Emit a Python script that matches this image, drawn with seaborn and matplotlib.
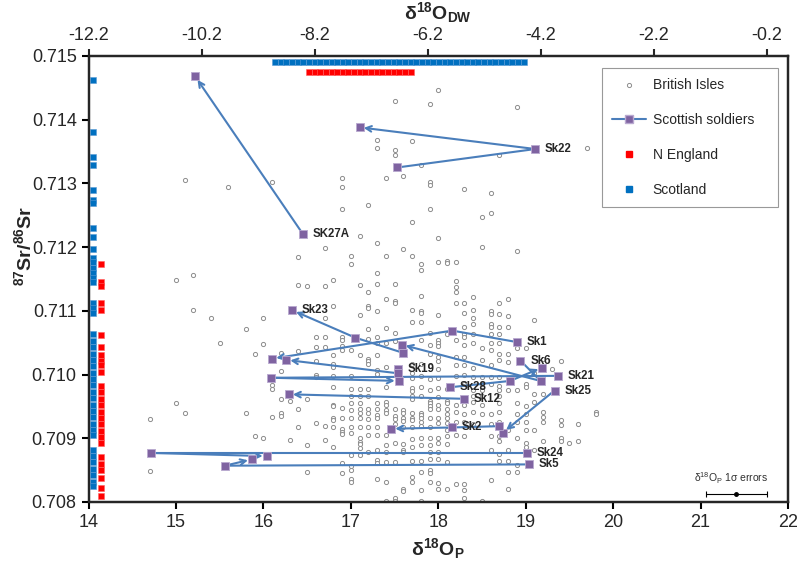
import matplotlib
matplotlib.use("Agg")
import matplotlib.pyplot as plt
import seaborn as sns
import pandas as pd
from matplotlib.lines import Line2D

# British Isles reference data: d18Op columns (0.1 permil steps) and the 87Sr/86Sr values in each
bi_cols = [14.7, 15.0, 15.1, 15.2, 15.4, 15.5, 15.6, 15.8, 15.9, 16.0, 16.1, 16.2, 16.3, 16.4, 16.5,
           16.6, 16.7, 16.8, 16.9, 17.0, 17.1, 17.2, 17.3, 17.4, 17.5, 17.6, 17.7, 17.8, 17.9, 18.0,
           18.1, 18.2, 18.3, 18.4, 18.5, 18.6, 18.7, 18.8, 18.9, 19.0, 19.1, 19.2, 19.3, 19.4, 19.5,
           19.6, 19.7, 19.8]
bi_sr = [
    [0.70930, 0.70848],
    [0.70955, 0.71148],
    [0.70939, 0.71306],
    [0.71101, 0.71156],
    [0.71089],
    [0.71049],
    [0.71294],
    [0.71071, 0.70940],
    [0.71032, 0.70904],
    [0.71089, 0.71048, 0.70900],
    [0.70984, 0.70978, 0.70934, 0.71302],
    [0.71034, 0.71006, 0.70962, 0.70939, 0.70935],
    [0.70958, 0.70897],
    [0.71037, 0.70946, 0.70918, 0.71184, 0.71140],
    [0.70962, 0.70889, 0.70847, 0.71139],
    [0.71059, 0.71044, 0.71022, 0.70999, 0.70996, 0.70924],
    [0.71089, 0.71059, 0.71044, 0.70920, 0.70898, 0.71199, 0.71139],
    [0.71107, 0.71030, 0.71017, 0.71012, 0.70998, 0.70981, 0.70952, 0.70950, 0.70932, 0.70928,
     0.70918, 0.70887, 0.71148],
    [0.71059, 0.71055, 0.71045, 0.71039, 0.70947, 0.70932, 0.70915, 0.70910, 0.70906, 0.70861,
     0.70846, 0.71309, 0.71295, 0.71260],
    [0.71039, 0.70997, 0.70978, 0.70967, 0.70955, 0.70945, 0.70932, 0.70918, 0.70908, 0.70874,
     0.70857, 0.70850, 0.70836, 0.70832, 0.71186, 0.71174],
    [0.71094, 0.71030, 0.70978, 0.70967, 0.70955, 0.70946, 0.70940, 0.70932, 0.70918, 0.70900,
     0.70894, 0.70891, 0.70885, 0.70874, 0.71217, 0.71141],
    [0.71129, 0.71107, 0.71104, 0.71071, 0.71056, 0.71025, 0.71021, 0.71017, 0.70978, 0.70967,
     0.70946, 0.70940, 0.70931, 0.70918, 0.70905, 0.70878, 0.71266],
    [0.71100, 0.71059, 0.71049, 0.71030, 0.71007, 0.71001, 0.70955, 0.70946, 0.70937, 0.70932,
     0.70918, 0.70905, 0.70881, 0.70866, 0.70861, 0.70836, 0.71368, 0.71355, 0.71207, 0.71159,
     0.71142],
    [0.71118, 0.71073, 0.71049, 0.71012, 0.70980, 0.70957, 0.70953, 0.70945, 0.70940, 0.70905,
     0.70889, 0.70878, 0.70862, 0.70831, 0.70802, 0.71308, 0.71186],
    [0.71115, 0.71112, 0.71066, 0.71052, 0.70946, 0.70935, 0.70931, 0.70922, 0.70893, 0.70862,
     0.70806, 0.70802, 0.71429, 0.71352, 0.71344, 0.71142],
    [0.70944, 0.70939, 0.70932, 0.70927, 0.70918, 0.70891, 0.70881, 0.70878, 0.70820, 0.70817,
     0.71312, 0.71197],
    [0.71101, 0.71083, 0.71017, 0.71002, 0.70995, 0.70979, 0.70974, 0.70966, 0.70962, 0.70939,
     0.70932, 0.70928, 0.70918, 0.70899, 0.70887, 0.70865, 0.70839, 0.70832, 0.71367, 0.71239,
     0.71186],
    [0.71124, 0.71100, 0.71096, 0.71083, 0.71055, 0.71016, 0.70997, 0.70980, 0.70967, 0.70939,
     0.70936, 0.70932, 0.70925, 0.70920, 0.70900, 0.70889, 0.70865, 0.70847, 0.70819, 0.70802,
     0.71329, 0.71174, 0.71164],
    [0.71066, 0.71046, 0.71033, 0.71013, 0.70993, 0.70976, 0.70959, 0.70955, 0.70951, 0.70946,
     0.70932, 0.70918, 0.70900, 0.70889, 0.70878, 0.70868, 0.70850, 0.70846, 0.70831, 0.71424,
     0.71302, 0.71297, 0.71260],
    [0.71094, 0.71055, 0.71050, 0.71045, 0.71028, 0.71021, 0.71008, 0.70994, 0.70979, 0.70965,
     0.70952, 0.70946, 0.70932, 0.70924, 0.70900, 0.70892, 0.70878, 0.70868, 0.70830, 0.70821,
     0.71446, 0.71214, 0.71177],
    [0.71064, 0.70978, 0.70959, 0.70955, 0.70946, 0.70938, 0.70932, 0.70924, 0.70913, 0.70904,
     0.70891, 0.70862, 0.70821, 0.71179, 0.71175],
    [0.71177, 0.71147, 0.71138, 0.71129, 0.71113, 0.71055, 0.71028, 0.71015, 0.70997, 0.70952,
     0.70942, 0.70926, 0.70905, 0.70829],
    [0.71292, 0.71112, 0.71097, 0.71075, 0.71064, 0.71059, 0.71046, 0.71028, 0.71015, 0.70999,
     0.70985, 0.70952, 0.70938, 0.70926, 0.70903, 0.70829, 0.70819, 0.70807],
    [0.71122, 0.71102, 0.71089, 0.71080, 0.71064, 0.71049, 0.71011, 0.70996, 0.70976, 0.70966,
     0.70957, 0.70942, 0.70923],
    [0.71248, 0.71200, 0.71041, 0.71023, 0.70996, 0.70985, 0.70976, 0.70966, 0.70952, 0.70938,
     0.70802],
    [0.71285, 0.71254, 0.71100, 0.71095, 0.71080, 0.71075, 0.71064, 0.71049, 0.71039, 0.71015,
     0.70996, 0.70985, 0.70938, 0.70923, 0.70904, 0.70882, 0.70835],
    [0.71344, 0.71112, 0.71095, 0.71075, 0.71064, 0.71049, 0.71033, 0.71023, 0.70996, 0.70982,
     0.70976, 0.70966, 0.70955, 0.70942, 0.70926, 0.70903, 0.70895, 0.70876, 0.70865],
    [0.71118, 0.71092, 0.71075, 0.71033, 0.71020, 0.70976, 0.70913, 0.70882, 0.70865, 0.70847,
     0.70820],
    [0.71420, 0.71194, 0.71041, 0.70976, 0.70955, 0.70938, 0.70926, 0.70900, 0.70858, 0.70847],
    [0.71041, 0.70985, 0.70981, 0.70951, 0.70938, 0.70926, 0.70913, 0.70892, 0.70887],
    [0.71085, 0.71002, 0.70970, 0.70957, 0.70913, 0.70882],
    [0.71025, 0.70969, 0.70942, 0.70933, 0.70926, 0.70895],
    [0.71008],
    [0.71022, 0.70929, 0.70921, 0.70900, 0.70895],
    [0.70892],
    [0.70923, 0.70895],
    [0.71356],
    [0.70942, 0.70938],
]

# Scottish soldiers: successive teeth for each individual (arrow points to the last one)
soldier_names = ["SK27A", "Sk22", "Sk23", "Sk1", "Sk6", "Sk28", "Sk19", "Sk21",
                 "Sk12", "Sk25", "Sk2", "Sk24", "Sk5"]
soldier_d18o = [
    [16.45, 15.22],
    [17.53, 19.11, 17.10],
    [17.60, 17.05, 16.33],
    [18.90, 18.16, 16.10],
    [18.94, 19.17, 17.58],
    [18.13, 18.82, 19.19],
    [17.54, 17.54, 16.26],
    [19.37, 16.09, 17.55],
    [18.29, 16.29],
    [19.33, 18.74],
    [18.69, 18.16, 17.46],
    [19.01, 14.71, 16.04],
    [19.04, 15.56, 15.87],
]
soldier_sr = [
    [0.71221, 0.71468],
    [0.71325, 0.71354, 0.71388],
    [0.71034, 0.71058, 0.71101],
    [0.71051, 0.71069, 0.71025],
    [0.71022, 0.70990, 0.71047],
    [0.70980, 0.70990, 0.71011],
    [0.71009, 0.71002, 0.71023],
    [0.70998, 0.70995, 0.70990],
    [0.70962, 0.70969],
    [0.70975, 0.70909],
    [0.70919, 0.70917, 0.70915],
    [0.70877, 0.70877, 0.70872],
    [0.70859, 0.70857, 0.70867],
]
label_at = [0, 1, 2, 0, 0, 0, 0, 0, 0, 0, 1, 0, 0]

# Marginal data: Scotland and N England drinking water d18O (top) and 87Sr/86Sr (left)
scot_dw = [-8.9, -8.8, -8.7, -8.6, -8.5, -8.4, -8.3, -8.2, -8.1, -8.0, -7.9, -7.8, -7.7, -7.6,
           -7.5, -7.4, -7.3, -7.2, -7.1, -7.0, -6.9, -6.8, -6.7, -6.6, -6.5, -6.4, -6.3, -6.2,
           -6.1, -6.0, -5.9, -5.8, -5.7, -5.6, -5.5, -5.4, -5.3, -5.2, -5.1, -5.0, -4.9, -4.8,
           -4.7, -4.6, -4.5]
neng_dw = [-8.3, -8.2, -8.1, -8.0, -7.9, -7.8, -7.7, -7.6, -7.5, -7.4, -7.3, -7.2, -7.1, -7.0,
           -6.9, -6.8, -6.7, -6.6, -6.5]
scot_sr = [0.71462, 0.71380, 0.71341, 0.71329, 0.71289, 0.71274, 0.71269, 0.71230, 0.71216,
           0.71197, 0.71183, 0.71176, 0.71168, 0.71160, 0.71152, 0.71145, 0.71112, 0.71104,
           0.71096, 0.71063, 0.71053, 0.71043, 0.71033, 0.71023, 0.71013, 0.71003, 0.70993,
           0.70983, 0.70973, 0.70963, 0.70953, 0.70943, 0.70933, 0.70923, 0.70913, 0.70905,
           0.70882, 0.70872, 0.70862, 0.70852, 0.70842, 0.70832, 0.70825]
neng_sr = [0.71173, 0.71146, 0.71139, 0.71112, 0.71101, 0.71062, 0.71044, 0.71031, 0.71022,
           0.71015, 0.71004, 0.70982, 0.70972, 0.70962, 0.70952, 0.70942, 0.70932, 0.70922,
           0.70912, 0.70902, 0.70892, 0.70870, 0.70860, 0.70850, 0.70838, 0.70822, 0.70810]

# d18Op analytical error (1 sigma)
err_d18o, err_sr, err_sd = 21.41, 0.70812, 0.35

# d18O_DW = a * d18O_P + b
dw_a, dw_b = 1.547, -33.858

purple = "#7f63a1"
line_blue = "#4a7ebb"
scot_blue = "#0070c0"
neng_red = "#ff0000"

bi = pd.DataFrame({
    "d18o": [c for c, vals in zip(bi_cols, bi_sr) for _ in vals],
    "sr": [v for vals in bi_sr for v in vals],
})

sns.set_style("ticks")
plt.rcParams["font.family"] = ["Liberation Sans", "DejaVu Sans"]
plt.rcParams["mathtext.fontset"] = "custom"
plt.rcParams["mathtext.rm"] = "Liberation Sans"
plt.rcParams["mathtext.it"] = "Liberation Sans"
plt.rcParams["mathtext.bf"] = "Liberation Sans:bold"

fig = plt.figure(figsize=(7.97, 5.63), dpi=100)
ax = fig.add_axes([88.5 / 797, 1 - 502 / 563, 699.5 / 797, 446 / 563])

# British Isles open circles
sns.scatterplot(data=bi, x="d18o", y="sr", ax=ax, marker="o", s=9,
                facecolor="white", edgecolor="#8c8c8c", linewidth=0.7, zorder=2, legend=False)

# left margin: Scotland / N England Sr
sns.scatterplot(x=[14.046] * len(scot_sr), y=scot_sr, ax=ax, marker="s", s=20,
                color=scot_blue, edgecolor="#5b9bd5", linewidth=0.4, zorder=3, clip_on=False, legend=False)
sns.scatterplot(x=[14.14] * len(neng_sr), y=neng_sr, ax=ax, marker="s", s=20,
                color=neng_red, edgecolor="#ff6060", linewidth=0.4, zorder=3, clip_on=False, legend=False)

# soldiers: lines, arrows and squares
for name, xs, ys, li in zip(soldier_names, soldier_d18o, soldier_sr, label_at):
    ax.plot(xs[:-1], ys[:-1], color=line_blue, lw=1.5, zorder=4, solid_capstyle="butt")
    ax.annotate("", xy=(xs[-1], ys[-1]), xytext=(xs[-2], ys[-2]),
                arrowprops=dict(arrowstyle="->", color=line_blue, lw=1.5,
                                shrinkA=0, shrinkB=3, mutation_scale=10), zorder=4)
    sns.scatterplot(x=xs, y=ys, ax=ax, marker="s", s=30, color=purple,
                    edgecolor="#b9a9d0", linewidth=0.6, zorder=5, legend=False)
    ax.annotate(name, (xs[li], ys[li]), xytext=(7, 0), textcoords="offset points",
                va="center", ha="left", fontsize=8.3, fontweight="bold", zorder=6)

# error bar
ax.errorbar([err_d18o], [err_sr], xerr=[err_sd], fmt="o", color="black", ms=2.5,
            lw=0.8, capsize=2.5, capthick=0.8, zorder=5)
ax.annotate(r"δ$^{18}$O$_{\rm P}$ 1σ errors", (err_d18o, err_sr), xytext=(-4, 6),
            textcoords="offset points", ha="center", va="bottom", fontsize=7.5, color="#303030")

ax.set_xlim(14, 22)
ax.set_ylim(0.708, 0.715)
ax.set_xticks(range(14, 23))
ax.set_yticks([0.708, 0.709, 0.710, 0.711, 0.712, 0.713, 0.714, 0.715])
ax.set_yticklabels([f"{v:.3f}" for v in ax.get_yticks()])
ax.tick_params(axis="both", labelsize=13, width=1.5, length=5, direction="out", color="black")
for sp in ax.spines.values():
    sp.set_linewidth(1.6)
    sp.set_color("black")
ax.set_xlabel(r"δ$^{\mathbf{18}}$O$_{\mathbf{P}}$", fontsize=14, fontweight="bold", labelpad=4)
ax.set_ylabel(r"$^{\mathbf{87}}$Sr/$^{\mathbf{86}}$Sr", fontsize=14, fontweight="bold")
ax.yaxis.set_label_coords(-0.077, 0.575)

# top axis in drinking water d18O
axt = ax.twiny()
axt.set_xlim(dw_a * 14 + dw_b, dw_a * 22 + dw_b)
axt.set_ylim(0.708, 0.715)
axt.set_xticks([-12.2, -10.2, -8.2, -6.2, -4.2, -2.2, -0.2])
axt.set_xticklabels(["-12.2", "-10.2", "-8.2", "-6.2", "-4.2", "-2.2", "-0.2"])
axt.tick_params(axis="x", labelsize=13, width=1.5, length=5, direction="out")
sns.scatterplot(x=scot_dw, y=[0.71490] * len(scot_dw), ax=axt, marker="s", s=20,
                color=scot_blue, edgecolor="#5b9bd5", linewidth=0.4, zorder=3, legend=False)
sns.scatterplot(x=neng_dw, y=[0.71475] * len(neng_dw), ax=axt, marker="s", s=20,
                color=neng_red, edgecolor="#ff6060", linewidth=0.4, zorder=3, legend=False)
axt.set_xlabel(r"δ$^{\mathbf{18}}$O$_{\mathbf{DW}}$", fontsize=14, fontweight="bold", labelpad=6)
for sp in axt.spines.values():
    sp.set_linewidth(1.6)

handles = [
    Line2D([], [], ls="none", marker="o", ms=3, mfc="white", mec="#8c8c8c", mew=0.7),
    Line2D([], [], color=line_blue, lw=1.5, marker="s", ms=6, mfc=purple, mec="#b9a9d0"),
    Line2D([], [], ls="none", marker="s", ms=5, color=neng_red),
    Line2D([], [], ls="none", marker="s", ms=5, color=scot_blue),
]
leg = axt.legend(handles, ["British Isles", "Scottish soldiers", "N England", "Scotland"],
                 loc="upper left", bbox_to_anchor=(0.734, 0.659, 0.252, 0.314), mode="expand",
                 frameon=True, fancybox=False, edgecolor="#808080", fontsize=10,
                 labelspacing=1.5, borderpad=0.75, handlelength=2.4, handletextpad=0.5,
                 borderaxespad=0)
leg.get_frame().set_linewidth(0.8)

fig.savefig("out.png", dpi=100)
